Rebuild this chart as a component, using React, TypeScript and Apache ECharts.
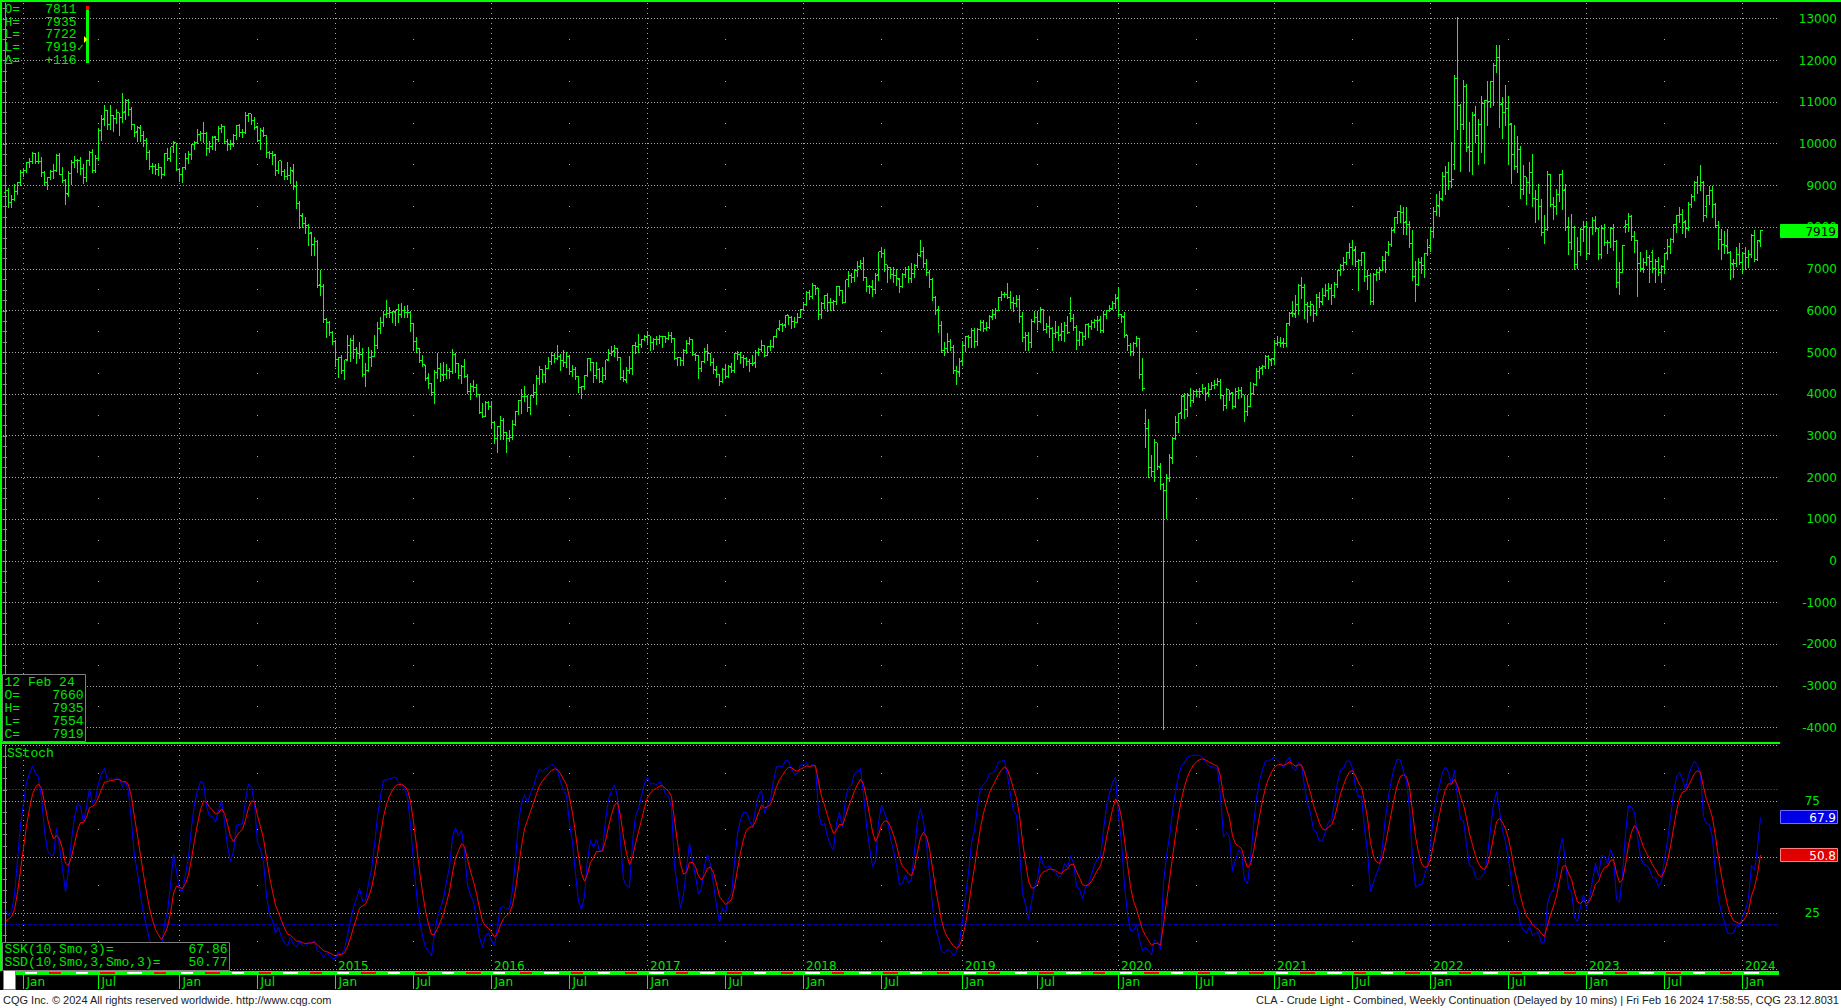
import React, { useEffect, useRef } from "react";
import * as echarts from "echarts";

// ---------------- DATA ----------------
// Weekly bars (Monday-dated) of CLA crude light, continuation, in dollars: [open, high, low, close]
// First bar: week of Mon 26 Nov 2012.
const FIRST_WEEK_UTC = Date.UTC(2012, 10, 26);

const bars2012 = [
  [88.3, 89.3, 85.8, 88.91], [88.9, 89.4, 84.9, 85.93], [86.0, 87.8, 84.9, 86.73], [86.8, 90.5, 86.6, 88.66], [88.6, 91.0, 87.9, 90.8], [90.8, 93.8, 90.2, 93.09],
];
const bars2013 = [
  [93.1, 94.3, 92.4, 93.56], [93.6, 95.7, 93.3, 95.56], [95.6, 96.6, 94.6, 95.88], [95.9, 98.2, 95.5, 97.77],
  [97.7, 97.9, 95.4, 95.72], [95.7, 98.0, 95.5, 95.86], [95.9, 97.0, 92.4, 93.13], [93.1, 93.6, 90.1, 90.68],
  [90.7, 92.2, 89.3, 91.95], [92.0, 93.7, 91.6, 93.45], [93.4, 95.1, 91.9, 93.71], [93.7, 97.5, 93.5, 97.23],
  [97.2, 97.8, 92.9, 92.7], [92.7, 94.6, 91.0, 91.29], [91.3, 91.5, 85.6, 88.01], [88.0, 93.6, 87.6, 93.0], [93.0, 96.2, 90.4, 95.61],
  [95.6, 97.2, 94.6, 96.04], [96.0, 96.3, 93.3, 96.02], [96.0, 96.9, 92.9, 94.15], [94.2, 95.3, 90.6, 91.97],
  [92.0, 96.1, 91.1, 96.03], [96.0, 98.4, 94.9, 97.85], [97.9, 98.7, 93.2, 93.69], [93.7, 97.4, 93.3, 96.56],
  [96.6, 103.9, 96.1, 103.22], [103.2, 107.0, 101.0, 105.95], [106.0, 109.3, 104.5, 108.05], [108.0, 108.1, 103.6, 104.7], [104.7, 109.3, 103.6, 106.94],
  [106.9, 107.0, 103.1, 106.04], [106.0, 108.3, 105.0, 107.46], [107.5, 107.5, 102.2, 106.42], [106.4, 112.2, 105.3, 107.65],
  [107.7, 110.7, 106.1, 110.53], [110.5, 110.7, 106.9, 108.21], [108.2, 108.8, 103.6, 104.67], [104.7, 104.9, 101.9, 102.87], [102.9, 104.4, 100.6, 103.84],
  [103.8, 104.5, 100.7, 102.02], [102.0, 103.0, 99.6, 100.81], [100.8, 101.5, 96.3, 97.85], [97.9, 98.6, 93.9, 94.61],
  [94.6, 95.4, 93.0, 94.6], [94.6, 95.3, 92.9, 93.84], [93.8, 95.5, 92.5, 94.44], [94.4, 94.6, 91.8, 92.72],
  [92.7, 97.9, 92.5, 97.65], [97.7, 99.0, 96.1, 96.6], [96.6, 99.3, 96.0, 99.32], [99.3, 100.8, 98.2, 100.32], [100.3, 100.3, 93.8, 93.96],
];
const bars2014 = [
  [94.0, 94.3, 91.2, 92.72], [92.7, 94.6, 91.0, 94.37], [94.4, 97.8, 94.0, 96.64], [96.6, 98.3, 95.4, 97.49],
  [97.5, 100.0, 96.4, 99.88], [99.9, 100.8, 98.9, 100.3], [100.3, 103.7, 100.2, 102.2], [102.2, 103.0, 100.9, 102.59],
  [102.6, 105.2, 100.5, 102.58], [102.6, 102.8, 97.4, 98.89], [98.9, 100.8, 98.0, 99.46], [99.5, 102.0, 98.9, 101.67], [101.7, 102.0, 98.5, 101.14],
  [101.1, 104.4, 100.7, 103.74], [103.7, 104.9, 102.8, 104.3], [104.3, 104.4, 100.3, 100.6], [100.6, 101.3, 98.6, 99.76],
  [99.8, 101.0, 98.9, 99.99], [100.0, 102.3, 99.6, 102.02], [102.0, 104.6, 101.3, 104.35], [104.4, 104.7, 101.9, 102.71],
  [102.7, 103.7, 101.7, 102.66], [102.7, 107.7, 102.6, 106.91], [106.9, 107.5, 105.5, 107.26], [107.3, 107.3, 104.8, 105.74], [105.7, 106.5, 103.7, 104.06],
  [104.1, 104.2, 100.7, 100.83], [100.8, 103.8, 98.9, 103.13], [103.1, 104.0, 101.8, 102.09], [102.1, 102.2, 97.0, 97.88],
  [97.9, 98.3, 96.6, 97.65], [97.7, 98.3, 95.1, 97.35], [97.4, 97.5, 92.5, 93.65], [93.7, 96.0, 93.0, 95.96],
  [96.0, 96.0, 92.5, 93.29], [93.3, 94.0, 91.5, 92.27], [92.3, 95.6, 91.6, 92.41], [92.4, 94.4, 90.6, 93.54], [93.5, 95.2, 89.2, 89.74],
  [89.7, 91.2, 84.7, 85.82], [85.8, 86.3, 79.8, 82.75], [82.7, 83.5, 80.0, 81.01], [81.0, 82.4, 78.6, 80.54],
  [80.5, 80.8, 75.8, 78.65], [78.7, 78.9, 73.3, 75.82], [75.8, 77.8, 73.3, 76.51], [76.5, 76.9, 65.7, 66.15],
  [66.2, 69.9, 63.7, 65.84], [65.8, 66.4, 57.3, 57.81], [57.8, 58.3, 53.6, 57.13], [57.1, 57.6, 54.3, 54.73], [54.7, 55.1, 52.0, 52.69],
];
const bars2015 = [
  [52.7, 53.1, 46.8, 48.36], [48.4, 49.0, 44.2, 48.69], [48.7, 49.3, 45.2, 45.59], [45.6, 48.3, 43.6, 48.24],
  [48.2, 54.2, 48.1, 51.69], [51.7, 53.5, 48.0, 52.78], [52.8, 54.2, 48.8, 50.81], [50.8, 51.3, 47.5, 49.76],
  [49.8, 52.5, 48.8, 49.61], [49.6, 51.0, 44.4, 44.84], [44.8, 47.6, 42.0, 45.72], [45.7, 51.3, 45.6, 48.87], [48.9, 50.6, 46.8, 49.14],
  [49.1, 54.2, 49.1, 51.64], [51.6, 57.4, 51.0, 55.74], [55.7, 58.4, 54.7, 57.15], [57.2, 59.9, 56.3, 59.15],
  [59.2, 62.6, 58.4, 59.39], [59.4, 61.0, 58.6, 59.69], [59.7, 60.0, 57.2, 59.72], [59.7, 60.3, 56.5, 60.3],
  [60.3, 61.6, 57.3, 59.13], [59.1, 61.8, 58.5, 59.96], [60.0, 61.2, 58.6, 59.61], [59.6, 61.5, 58.4, 59.63], [59.6, 59.9, 55.1, 56.93],
  [56.9, 57.0, 50.6, 52.74], [52.7, 53.8, 50.1, 50.89], [50.9, 51.0, 47.7, 48.14], [48.1, 49.5, 46.7, 47.12],
  [47.0, 47.0, 43.4, 43.87], [43.9, 45.2, 41.4, 42.5], [42.5, 42.8, 39.9, 40.45], [40.5, 45.9, 37.8, 45.22], [45.2, 50.0, 44.0, 46.05],
  [46.1, 47.5, 43.1, 44.63], [44.6, 47.7, 43.4, 44.68], [44.7, 47.2, 43.8, 45.7], [45.7, 46.2, 43.9, 45.54],
  [45.5, 50.9, 45.2, 49.63], [49.6, 49.8, 45.3, 47.26], [47.3, 47.5, 43.9, 44.6], [44.6, 47.0, 42.6, 46.59],
  [46.6, 48.4, 44.2, 44.29], [44.3, 44.9, 40.2, 40.74], [40.7, 42.6, 38.9, 41.9], [41.9, 43.5, 40.7, 41.71], [41.7, 42.5, 39.6, 39.97],
  [40.0, 40.1, 35.4, 35.62], [35.6, 37.9, 34.5, 34.73], [34.7, 38.3, 34.7, 38.1], [38.1, 38.3, 36.5, 37.04],
];
const bars2016 = [
  [37.0, 38.4, 32.1, 33.16], [33.2, 33.6, 28.4, 29.42], [29.4, 32.4, 26.2, 32.19], [32.2, 34.8, 29.3, 33.62],
  [33.6, 34.2, 29.3, 30.89], [30.9, 31.0, 26.1, 29.44], [29.4, 31.5, 28.7, 29.64], [29.6, 33.8, 29.3, 32.78], [32.8, 36.0, 32.5, 35.92],
  [35.9, 38.4, 35.3, 38.5], [38.5, 41.2, 35.5, 39.44], [39.4, 41.9, 38.3, 39.46], [39.5, 39.9, 35.9, 36.79],
  [36.8, 39.8, 35.2, 39.72], [39.7, 42.4, 39.4, 40.36], [40.4, 44.5, 37.6, 43.73], [43.7, 46.8, 42.5, 45.92],
  [45.9, 46.0, 43.0, 44.66], [44.7, 47.0, 43.0, 46.21], [46.2, 49.0, 46.2, 47.75], [47.8, 50.2, 47.2, 49.33], [49.3, 50.0, 47.8, 48.62],
  [48.6, 51.7, 48.5, 49.07], [49.1, 49.6, 45.8, 47.98], [48.0, 50.5, 46.7, 47.64], [47.6, 50.2, 46.6, 48.99],
  [49.0, 49.3, 44.8, 45.41], [45.4, 47.1, 44.4, 45.95], [46.0, 46.6, 43.7, 44.19], [44.2, 44.4, 40.6, 41.6],
  [41.6, 42.0, 39.2, 41.8], [41.8, 44.6, 41.3, 44.49], [44.5, 48.8, 44.4, 48.52], [48.5, 48.6, 45.8, 47.64], [47.6, 47.8, 43.0, 44.44],
  [44.4, 47.7, 43.8, 45.88], [45.9, 46.2, 42.9, 43.03], [43.0, 46.6, 42.9, 44.48], [44.5, 48.3, 43.6, 48.24],
  [48.2, 50.8, 48.1, 49.81], [49.8, 51.6, 49.3, 50.35], [50.4, 51.9, 49.2, 50.85], [50.9, 51.0, 48.2, 48.7], [48.7, 49.0, 43.6, 44.07],
  [44.1, 45.9, 43.1, 43.41], [43.4, 46.6, 43.0, 45.69], [45.7, 49.2, 45.2, 46.06], [46.1, 51.9, 44.8, 51.68],
  [51.7, 52.4, 49.9, 51.5], [51.5, 54.5, 50.2, 51.9], [51.9, 53.3, 51.4, 53.02], [53.0, 54.3, 52.9, 53.72],
];
const bars2017 = [
  [53.7, 55.2, 52.1, 53.99], [54.0, 54.0, 50.7, 52.37], [52.4, 53.5, 50.9, 53.22], [53.2, 54.0, 52.0, 53.17], [53.2, 54.1, 52.2, 53.83],
  [53.8, 54.0, 51.2, 53.86], [53.9, 54.0, 52.6, 53.4], [53.4, 54.9, 53.2, 53.99], [54.0, 54.8, 52.6, 53.33],
  [53.3, 53.4, 48.6, 48.49], [48.5, 49.0, 47.1, 48.78], [48.8, 48.9, 47.1, 47.97], [48.0, 50.9, 47.1, 50.6],
  [50.6, 52.9, 50.0, 52.24], [52.2, 53.8, 52.0, 53.18], [53.2, 53.3, 49.4, 49.62], [49.6, 49.9, 48.2, 49.33],
  [49.3, 49.5, 43.8, 46.22], [46.2, 48.0, 45.5, 47.84], [47.8, 51.0, 47.7, 50.33], [50.3, 52.0, 48.2, 49.8], [49.8, 50.0, 46.9, 47.66],
  [47.7, 48.8, 45.2, 45.83], [45.8, 46.8, 44.2, 44.74], [44.7, 44.8, 42.1, 43.01], [43.0, 46.4, 42.9, 46.04],
  [46.0, 47.3, 43.8, 44.23], [44.2, 46.9, 44.2, 46.54], [46.5, 47.5, 45.4, 45.77], [45.8, 49.8, 45.4, 49.71], [49.7, 50.4, 48.5, 49.58],
  [49.6, 50.2, 47.6, 48.82], [48.8, 49.5, 46.5, 48.51], [48.5, 48.9, 47.0, 47.87], [47.9, 48.4, 45.6, 47.29],
  [47.3, 49.4, 47.0, 47.48], [47.5, 50.5, 46.6, 49.89], [49.9, 51.0, 49.5, 50.66], [50.7, 52.9, 50.4, 51.67],
  [51.7, 51.8, 49.2, 49.29], [49.3, 51.6, 49.3, 51.45], [51.5, 52.9, 50.7, 51.47], [51.5, 54.0, 51.3, 53.9], [53.9, 55.7, 53.7, 55.64],
  [55.6, 57.7, 55.5, 56.74], [56.7, 57.1, 55.1, 56.55], [56.6, 59.1, 56.1, 58.95], [59.0, 59.0, 56.8, 58.36],
  [58.4, 58.8, 55.8, 57.36], [57.4, 58.4, 56.1, 57.3], [57.3, 59.5, 57.2, 58.47], [58.5, 60.5, 58.4, 60.42],
];
const bars2018 = [
  [60.4, 62.2, 60.1, 61.44], [61.4, 64.8, 61.3, 64.3], [64.3, 64.9, 62.8, 63.37], [63.4, 66.7, 63.1, 66.14], [66.1, 66.2, 64.1, 65.45],
  [65.5, 65.5, 58.1, 59.2], [59.2, 62.1, 58.2, 61.68], [61.7, 63.7, 60.7, 63.55], [63.6, 64.2, 60.0, 62.04],
  [62.0, 63.0, 60.2, 62.04], [62.0, 62.6, 60.2, 62.34], [62.3, 66.0, 61.6, 65.88], [65.9, 66.0, 63.9, 64.94],
  [64.9, 65.0, 61.8, 62.06], [62.1, 67.5, 62.0, 67.39], [67.4, 69.6, 66.0, 68.38], [68.4, 69.0, 66.8, 68.1], [68.1, 70.0, 67.1, 69.72],
  [69.7, 71.9, 68.4, 70.7], [70.7, 72.3, 70.3, 71.28], [71.3, 72.9, 67.3, 67.88], [67.9, 68.0, 64.8, 65.81],
  [65.8, 66.2, 64.2, 65.74], [65.7, 67.5, 63.6, 65.06], [65.1, 69.0, 64.3, 68.58], [68.6, 74.2, 67.5, 74.15],
  [74.2, 75.3, 72.9, 73.8], [73.8, 74.8, 69.6, 71.01], [71.0, 71.1, 67.0, 70.46], [70.5, 70.6, 67.9, 68.69], [68.7, 70.4, 66.9, 68.49],
  [68.5, 70.0, 66.3, 67.63], [67.6, 67.9, 64.4, 65.91], [65.9, 69.0, 65.7, 68.72], [68.7, 70.4, 68.0, 69.8],
  [69.8, 70.7, 66.9, 67.75], [67.8, 71.4, 67.0, 68.99], [69.0, 71.3, 68.2, 70.78], [70.8, 73.8, 70.6, 73.25],
  [73.3, 76.9, 73.1, 74.34], [74.3, 75.2, 70.6, 71.34], [71.3, 72.4, 68.5, 69.12], [69.1, 69.9, 65.7, 67.59], [67.6, 67.8, 62.6, 63.14],
  [63.1, 63.5, 59.3, 60.19], [60.2, 61.2, 54.8, 56.46], [56.5, 57.5, 50.2, 50.42], [50.4, 52.4, 49.4, 50.93],
  [50.9, 54.6, 50.1, 52.61], [52.6, 53.3, 50.6, 51.2], [51.2, 51.9, 45.0, 45.59], [45.6, 46.7, 42.4, 45.33], [45.3, 48.8, 44.4, 47.96],
];
const bars2019 = [
  [48.0, 52.7, 47.1, 51.59], [51.6, 54.0, 50.3, 53.8], [53.8, 54.2, 51.3, 53.69], [53.7, 55.8, 51.3, 55.26],
  [55.3, 55.8, 51.2, 52.72], [52.7, 55.8, 51.9, 55.59], [55.6, 57.8, 55.4, 57.26], [57.3, 57.9, 55.1, 55.8],
  [55.8, 57.4, 55.4, 56.07], [56.1, 58.9, 55.9, 58.52], [58.5, 60.4, 58.1, 59.04], [59.0, 60.7, 58.2, 60.14],
  [60.1, 63.2, 60.1, 63.08], [63.1, 64.8, 62.5, 63.89], [63.9, 64.5, 63.2, 64.0], [64.0, 66.6, 63.0, 63.3], [63.3, 64.8, 60.6, 61.94],
  [61.9, 63.3, 60.0, 61.66], [61.7, 63.9, 61.1, 62.76], [62.8, 63.8, 57.3, 58.63], [58.6, 59.7, 52.8, 53.5],
  [53.5, 54.9, 50.6, 53.99], [54.0, 54.8, 50.7, 52.51], [52.5, 58.0, 51.3, 57.43], [57.4, 59.9, 57.2, 58.47],
  [58.5, 59.9, 55.7, 57.51], [57.5, 60.9, 57.2, 60.21], [60.2, 60.4, 55.4, 55.63], [55.6, 57.1, 54.9, 56.2], [56.2, 58.8, 53.6, 55.66],
  [55.7, 56.0, 50.5, 54.5], [54.5, 57.5, 53.6, 54.87], [54.9, 56.4, 53.0, 54.17], [54.2, 57.0, 52.9, 55.1],
  [55.1, 57.4, 52.8, 56.52], [56.5, 58.8, 54.6, 54.85], [59.4, 63.4, 57.5, 58.09], [58.1, 59.2, 55.3, 55.91], [55.9, 56.6, 50.9, 52.81],
  [52.8, 55.1, 51.9, 54.7], [54.7, 54.9, 51.9, 53.78], [53.8, 56.9, 53.3, 56.66], [56.7, 57.1, 53.7, 56.2],
  [56.2, 57.9, 55.7, 57.24], [57.2, 58.0, 56.0, 57.72], [57.7, 58.7, 55.5, 57.77], [57.8, 58.7, 55.0, 55.17],
  [55.2, 59.9, 55.0, 59.2], [59.2, 60.1, 58.2, 60.07], [60.1, 61.4, 59.9, 60.44], [60.4, 62.3, 60.4, 61.72], [61.7, 64.1, 60.6, 63.05],
];
const bars2020 = [
  [63.1, 65.7, 58.7, 59.04], [59.0, 59.3, 57.4, 58.54], [58.5, 59.7, 53.6, 54.19], [54.2, 54.3, 50.6, 51.56],
  [51.6, 52.2, 49.3, 50.32], [50.3, 52.4, 49.3, 52.05], [52.1, 54.0, 51.5, 53.38], [53.4, 53.4, 44.0, 44.76],
  [44.8, 48.7, 41.0, 41.28], [32.9, 36.5, 27.3, 31.73], [31.7, 34.0, 20.1, 22.43], [22.4, 25.4, 20.5, 21.51], [21.5, 29.3, 19.3, 28.34],
  [28.3, 28.4, 22.0, 22.76], [22.4, 23.4, 17.3, 18.27], [18.3, 18.6, -40.3, 16.94], [16.9, 20.8, 10.3, 19.78],
  [19.8, 25.7, 19.1, 24.74], [24.7, 29.8, 23.6, 29.43], [29.4, 34.7, 29.3, 33.25], [33.3, 35.5, 31.0, 35.49],
  [35.5, 39.8, 34.4, 39.55], [39.6, 40.4, 34.4, 36.26], [36.3, 40.4, 34.7, 39.75], [39.8, 41.6, 37.1, 38.49], [38.5, 40.9, 38.2, 40.65],
  [40.7, 41.3, 39.6, 40.55], [40.6, 41.6, 39.4, 40.59], [40.6, 42.5, 40.3, 41.29], [41.3, 41.8, 38.7, 40.27],
  [40.3, 42.8, 39.6, 41.22], [41.2, 43.0, 41.2, 42.01], [42.0, 43.4, 41.5, 42.34], [42.3, 43.8, 42.3, 42.97], [43.0, 43.6, 39.0, 39.77],
  [39.8, 39.8, 36.1, 37.33], [37.3, 41.4, 36.6, 41.11], [41.1, 41.1, 38.6, 40.25], [40.3, 40.5, 36.6, 37.05],
  [37.1, 41.6, 36.9, 40.6], [40.6, 41.7, 39.1, 40.88], [40.9, 41.7, 39.3, 39.85], [39.9, 39.9, 33.6, 35.79],
  [35.8, 39.8, 34.9, 37.14], [37.1, 43.0, 37.1, 40.13], [40.1, 42.6, 40.0, 42.42], [42.4, 46.3, 42.3, 45.53], [45.5, 46.7, 43.9, 46.26],
  [46.3, 47.0, 44.9, 46.57], [46.6, 49.3, 46.3, 49.1], [49.1, 49.3, 46.4, 48.23], [48.2, 48.6, 47.1, 48.52],
];
const bars2021 = [
  [48.4, 53.0, 47.2, 52.24], [52.2, 53.9, 51.8, 52.36], [52.4, 53.6, 51.5, 52.27], [52.3, 53.5, 51.3, 52.2],
  [52.2, 57.0, 51.6, 56.85], [56.9, 59.8, 56.6, 59.47], [59.5, 62.3, 58.7, 59.24], [59.2, 63.8, 58.6, 61.5],
  [61.5, 66.4, 59.3, 66.09], [66.1, 68.0, 63.1, 65.61], [65.6, 66.4, 58.3, 61.42], [61.4, 62.0, 57.3, 60.97], [61.0, 62.3, 58.9, 61.45],
  [61.5, 61.5, 57.6, 59.32], [59.3, 64.0, 58.9, 63.13], [63.1, 64.4, 60.8, 62.14], [62.1, 65.5, 61.6, 63.58],
  [63.6, 66.5, 63.5, 64.9], [64.9, 66.7, 62.8, 65.37], [65.4, 66.4, 61.6, 63.58], [63.6, 67.0, 63.2, 66.32], [66.3, 69.8, 65.6, 69.62],
  [69.6, 71.2, 68.5, 70.91], [70.9, 72.9, 69.7, 71.64], [71.6, 74.2, 71.3, 74.05], [74.1, 76.2, 72.6, 75.16],
  [75.2, 77.0, 71.2, 74.56], [74.6, 75.5, 70.8, 71.81], [71.8, 72.4, 65.0, 72.07], [72.1, 74.0, 71.0, 73.95],
  [73.9, 74.0, 67.1, 68.28], [68.3, 69.9, 65.2, 68.44], [68.4, 69.0, 61.7, 62.32], [62.3, 69.0, 61.7, 68.74], [68.7, 70.1, 67.5, 69.29],
  [69.3, 70.4, 67.6, 69.72], [69.7, 73.1, 69.7, 71.97], [72.0, 74.3, 69.3, 73.98], [74.0, 76.7, 73.5, 75.88],
  [75.9, 80.1, 75.6, 79.35], [79.4, 82.5, 78.9, 82.28], [82.3, 84.0, 81.0, 83.76], [83.8, 85.4, 81.3, 83.57],
  [83.6, 84.9, 78.3, 81.27], [81.3, 84.9, 78.3, 80.79], [80.8, 81.5, 75.4, 76.1], [76.1, 79.3, 67.4, 68.15], [68.2, 72.0, 62.4, 66.26],
  [66.3, 72.7, 66.1, 71.67], [71.7, 73.0, 69.0, 70.86], [70.9, 73.9, 68.0, 73.79], [73.8, 77.3, 73.5, 75.21],
];
const bars2022 = [
  [75.7, 80.2, 74.3, 78.9], [78.9, 84.8, 77.8, 83.82], [83.8, 87.9, 82.9, 85.14], [85.1, 88.8, 82.8, 86.82], [86.8, 93.2, 86.6, 92.31],
  [92.3, 94.7, 88.0, 93.1], [93.1, 95.8, 89.1, 91.07], [91.1, 100.5, 89.7, 91.59], [95.2, 116.6, 94.0, 115.68],
  [115.7, 130.5, 103.5, 109.33], [109.3, 109.7, 93.5, 104.7], [104.7, 115.4, 103.5, 113.9], [113.9, 114.5, 98.4, 99.27],
  [99.3, 105.2, 93.6, 98.26], [98.3, 107.7, 92.9, 106.95], [107.0, 109.0, 100.5, 102.07], [102.1, 106.0, 95.3, 104.69],
  [104.7, 111.4, 98.2, 109.77], [109.8, 110.6, 95.4, 110.49], [110.5, 115.0, 104.6, 110.28], [110.3, 115.1, 108.8, 115.07], [115.1, 119.4, 109.3, 118.87],
  [118.9, 123.7, 117.2, 120.67], [120.7, 123.7, 104.0, 109.56], [109.6, 111.2, 101.5, 107.62], [107.6, 114.1, 104.6, 108.43],
  [108.4, 111.5, 95.1, 104.79], [104.8, 105.0, 90.6, 97.59], [97.6, 104.5, 94.1, 94.7], [94.7, 101.9, 93.2, 98.62],
  [98.6, 99.6, 87.0, 89.01], [89.0, 94.9, 87.9, 92.09], [92.1, 92.1, 85.7, 90.77], [90.8, 95.6, 88.2, 93.06], [93.1, 97.7, 85.2, 86.87],
  [86.9, 89.0, 81.2, 86.79], [86.8, 90.4, 82.1, 85.11], [85.1, 86.8, 78.1, 78.74], [78.7, 83.0, 76.3, 79.49],
  [79.5, 93.6, 79.3, 92.64], [92.6, 92.8, 85.2, 85.61], [85.6, 87.4, 82.1, 85.05], [85.1, 89.3, 83.1, 87.9], [87.9, 92.9, 86.3, 92.61],
  [92.6, 93.7, 84.5, 88.96], [89.0, 90.3, 79.3, 80.08], [80.1, 82.4, 73.6, 76.28], [76.3, 83.3, 74.9, 79.98],
  [80.0, 80.3, 70.1, 71.02], [71.0, 77.8, 70.3, 74.29], [74.3, 79.9, 73.4, 79.56], [79.6, 81.5, 76.8, 80.26],
];
const bars2023 = [
  [80.3, 81.5, 72.5, 73.77], [73.8, 80.1, 73.6, 79.86], [79.9, 82.6, 78.3, 81.64], [81.6, 82.7, 79.2, 79.68], [79.7, 79.8, 72.5, 73.39],
  [73.4, 80.6, 72.6, 79.72], [79.7, 80.7, 75.7, 76.34], [76.3, 76.9, 73.8, 76.32], [76.3, 80.0, 75.3, 79.68],
  [79.7, 80.9, 74.6, 76.68], [76.7, 77.0, 65.7, 66.74], [66.7, 71.7, 64.1, 69.26], [69.3, 75.7, 69.3, 75.67],
  [80.1, 81.8, 79.0, 80.7], [80.7, 83.5, 79.2, 82.52], [82.5, 83.0, 77.0, 77.87], [77.9, 79.1, 74.0, 76.78],
  [76.8, 76.9, 63.6, 71.34], [71.3, 74.0, 69.6, 70.04], [70.0, 72.7, 69.4, 71.69], [71.7, 74.7, 71.1, 72.67], [72.7, 73.4, 67.0, 71.74],
  [74.0, 74.5, 69.2, 70.17], [70.2, 72.4, 66.9, 71.78], [71.8, 73.0, 68.6, 69.16], [69.2, 71.0, 67.0, 70.64],
  [70.6, 73.9, 69.0, 73.86], [73.9, 77.3, 72.5, 75.42], [75.4, 77.4, 73.9, 77.07], [77.1, 80.8, 76.6, 80.58], [80.6, 83.0, 78.8, 82.82],
  [82.8, 84.9, 81.4, 83.19], [83.2, 84.4, 78.6, 81.25], [81.3, 81.8, 77.6, 79.83], [79.8, 86.0, 79.3, 85.55],
  [85.6, 88.1, 85.0, 87.51], [87.5, 91.2, 86.6, 90.77], [90.8, 92.4, 88.3, 90.03], [90.0, 95.0, 88.9, 90.79],
  [90.8, 91.1, 81.5, 82.79], [85.0, 87.8, 82.4, 87.69], [87.7, 90.0, 85.6, 88.75], [88.8, 89.9, 82.5, 85.54], [85.4, 85.9, 80.1, 80.51],
  [80.5, 81.5, 74.9, 77.17], [77.2, 79.5, 72.4, 75.89], [75.9, 79.1, 73.8, 75.54], [75.5, 79.6, 73.8, 74.07],
  [74.1, 74.3, 67.7, 71.23], [71.2, 72.5, 68.0, 71.43], [71.4, 75.2, 70.7, 73.56], [73.6, 76.2, 71.2, 71.65],
];
const bars2024 = [
  [71.6, 74.2, 69.3, 73.81], [73.8, 75.3, 70.1, 72.68], [72.7, 74.7, 70.6, 73.41], [73.4, 78.3, 72.9, 78.01], [78.0, 79.3, 72.0, 72.28],
  [72.3, 77.0, 72.2, 76.84], [76.6, 79.35, 75.54, 79.19],
];
// Weeks before the first visible bar (Sep 3 - Nov 19 2012), [high, low, close]; used only to start the stochastic
const warmup2012 = [
  [97.4, 94.2, 96.42], [100.4, 95.9, 99.0], [99.0, 91.2, 92.89], [93.5, 88.9, 92.19], [94.0, 87.6, 89.88], [93.0, 88.8, 91.86],
  [93.0, 89.5, 90.05], [90.4, 84.8, 86.28], [87.2, 84.1, 84.86], [89.0, 84.1, 86.07], [87.2, 84.1, 86.92], [89.0, 85.6, 88.28],
];

const priceGridValues = [-4000, -3000, -2000, -1000, 0, 1000, 2000, 3000, 4000, 5000, 6000, 7000, 8000, 9000, 10000, 11000, 12000, 13000];
const stochGridValues = [0, 25, 50, 75, 100];
const stochLabelValues = [25, 75];
const stochLevels = [80, 20];
const stochPeriod = 10;
const stochSmooth = 3;
const lastSSK = 67.86;
const lastSSD = 50.77;
const sskBoxText = "67.9";
const ssdBoxText = "50.8";
const sskLegend = ["SSK(10,Smo,3)=", "67.86"];
const ssdLegend = ["SSD(10,Smo,3,Smo,3)=", "50.77"];
const dayQuote = [["O=", "7811"], ["H=", "7935"], ["L=", "7722"], ["L=", "7919"], ["\u0394=", "+116"]];
const weekQuoteDate = "12 Feb 24";
const weekQuote = [["O=", "7660"], ["H=", "7935"], ["L=", "7554"], ["C=", "7919"]];
const firstYearLabelShown = 2015; // 2013 and 2014 sit under the SSK legend box
const footerLeft = "CQG Inc. \u00a9 2024 All rights reserved worldwide. http://www.cqg.com";
const footerRight = "CLA - Crude Light - Combined, Weekly Continuation (Delayed by 10 mins) | Fri Feb 16 2024 17:58:55, CQG 23.12.8031";

// ---------------- STYLE ----------------
const GREEN = "#00ff00";
const TEXT_GREEN = "#00e600";
const BAR_GREEN = "#12f812";
const GRID_GRAY = "#a8a8a8";
const TICK_GRAY = "#8a8a8a";
const SANS = '"DejaVu Sans", Verdana, sans-serif';
const MONO = '"Liberation Mono", "DejaVu Sans Mono", monospace';

const X_MIN = -2.5 / 3;
const X_MAX = X_MIN + 592;
const P_MIN = -4340;
const P_MAX = 13381;

function buildOption() {
  const bars = [
    ...bars2012, ...bars2013, ...bars2014, ...bars2015, ...bars2016, ...bars2017, ...bars2018,
    ...bars2019, ...bars2020, ...bars2021, ...bars2022, ...bars2023, ...bars2024,
  ].map((b) => b.map((v) => Math.round(v * 100)));
  const N = bars.length;

  // stochastic: raw %K over 10 weeks, numerator and denominator smoothed (Smo 3); SSD = Smo 3 of SSK
  const hlc = [...warmup2012.map((r) => r.map((v) => Math.round(v * 100))), ...bars.map((b) => [b[1], b[2], b[3]])];
  let sNum: any = null, sDen: any = null, sD: any = null;
  const ssk: number[][] = [], ssd: number[][] = [];
  for (let t = 0; t < hlc.length; t++) {
    const from = Math.max(0, t - stochPeriod + 1);
    let hh = -Infinity, ll = Infinity;
    for (let j = from; j <= t; j++) { hh = Math.max(hh, hlc[j][0]); ll = Math.min(ll, hlc[j][1]); }
    const num = hlc[t][2] - ll, den = hh - ll;
    sNum = sNum === null ? num : sNum + (num - sNum) / stochSmooth;
    sDen = sDen === null ? den : sDen + (den - sDen) / stochSmooth;
    const k = sDen > 0 ? (100 * sNum) / sDen : 50;
    sD = sD === null ? k : sD + (k - sD) / stochSmooth;
    const i = t - warmup2012.length;
    if (i >= 0) { ssk.push([i, k]); ssd.push([i, sD]); }
  }

  // calendar of weekly bars
  const months: { i: number; m: number; y: number }[] = [];
  let prevM = new Date(FIRST_WEEK_UTC).getUTCMonth();
  for (let i = 1; i < N; i++) {
    const d = new Date(FIRST_WEEK_UTC + i * 7 * 86400000);
    const m = d.getUTCMonth();
    if (m !== prevM) months.push({ i, m, y: d.getUTCFullYear() });
    prevM = m;
  }
  const janJul = months.filter((s) => s.m === 0 || s.m === 6);
  const janJulIdx = janJul.map((s) => s.i);
  const janJulLabel = new Map(janJul.map((s) => [s.i, s.m === 0 ? "Jan" : "Jul"]));
  const jans = months.filter((s) => s.m === 0);
  const juls = months.filter((s) => s.m === 6);
  const dashes: number[][] = [];
  months.forEach((s, k) => {
    if (s.m % 2 === 0) {
      const end = k + 1 < months.length ? months[k + 1].i : N;
      dashes.push([s.i, 0.5, end, s.m % 4 === 0 ? 0 : 1]);
    }
  });

  const priceMinor: number[] = [];
  for (let v = -4250; v <= 13250; v += 250) priceMinor.push(v);
  const stochMinor: number[] = [];
  for (let v = 5; v < 100; v += 5) stochMinor.push(v);

  const priceMid = priceGridValues.slice(0, -1).map((v) => v + 500);
  const stochMid = [12.5, 37.5, 62.5, 87.5];

  const hLine = (color: string, dash: number[]) => (params: any, api: any) => {
    const cs = params.coordSys;
    const y = Math.floor(api.coord([api.value(0), api.value(1)])[1]) + 0.5;
    return { type: "line", silent: true, shape: { x1: cs.x, y1: y, x2: cs.x + cs.width, y2: y }, style: { stroke: color, lineWidth: 1, lineDash: dash } };
  };
  const vLine = (params: any, api: any) => {
    const cs = params.coordSys;
    const x = Math.floor(api.coord([api.value(0), api.value(1)])[0]) + 0.5;
    return { type: "line", silent: true, shape: { x1: x, y1: cs.y, x2: x, y2: cs.y + cs.height }, style: { stroke: GRID_GRAY, lineWidth: 1, lineDash: [1, 4] } };
  };
  const dot = (params: any, api: any) => {
    const p = api.coord([api.value(0), api.value(1)]);
    return { type: "rect", silent: true, shape: { x: Math.floor(p[0]), y: Math.floor(p[1]), width: 1, height: 1 }, style: { fill: GRID_GRAY } };
  };
  const ohlc = (params: any, api: any) => {
    const i = api.value(0);
    const o = api.value(1), h = api.value(2), l = api.value(3), c = api.value(4);
    const top = Math.max(h, o, c), bot = Math.min(l, o, c);
    const pT = api.coord([i, top]), pB = api.coord([i, bot]);
    const yO = Math.floor(api.coord([i, o])[1]) + 0.5;
    const yC = Math.floor(api.coord([i, c])[1]) + 0.5;
    const x = Math.floor(pT[0]) + 0.5;
    const yT = Math.round(pT[1]);
    const yB = Math.max(Math.round(pB[1]), yT + 1);
    const st = { stroke: BAR_GREEN, lineWidth: 1 };
    return {
      type: "group", silent: true,
      children: [
        { type: "line", shape: { x1: x, y1: yT, x2: x, y2: yB + 1 }, style: st },
        { type: "line", shape: { x1: x - 1.5, y1: yO, x2: x - 0.5, y2: yO }, style: st },
        { type: "line", shape: { x1: x + 0.5, y1: yC, x2: x + 2.5, y2: yC }, style: st },
      ],
    };
  };
  const valueBox = (fills: string[], strokes: string[], texts: string[], textColors: string[]) => (params: any, api: any) => {
    const cs = params.coordSys;
    const k = params.dataIndex;
    const y = Math.round(api.coord([api.value(0), api.value(1)])[1]);
    const x0 = cs.x + cs.width + 1;
    return {
      type: "group", silent: true,
      children: [
        { type: "rect", shape: { x: x0 + 0.5, y: y - 6.5, width: 57, height: 13 }, style: { fill: fills[k], stroke: strokes[k], lineWidth: 1 } },
        { type: "text", x: 1836, y: y + 0.5, style: { text: texts[k], fill: textColors[k], font: `12px ${SANS}`, align: "right", verticalAlign: "middle" } },
      ],
    };
  };
  const yearLabel = (params: any, api: any) => {
    const cs = params.coordSys;
    const x = Math.floor(api.coord([api.value(0), api.value(1)])[0]) + 3;
    return { type: "text", silent: true, x, y: cs.y + cs.height + 2.5, style: { text: String(api.value(2)), fill: TEXT_GREEN, font: `12px ${SANS}`, align: "left", verticalAlign: "bottom" } };
  };
  const monthDash = (params: any, api: any) => {
    const a = api.coord([api.value(0), api.value(1)]);
    const b = api.coord([api.value(2), api.value(1)]);
    const x1 = Math.floor(a[0]) + 2, x2 = Math.floor(b[0]) + 2;
    return { type: "rect", silent: true, shape: { x: x1, y: 972, width: x2 - x1, height: 2 }, style: { fill: api.value(3) === 0 ? "#ffffff" : "#ff0000" } };
  };

  const xBase = { type: "value", min: X_MIN, max: X_MAX, splitLine: { show: false } };
  const txt = (text: string, x: number, y: number, align: string, font: string, fill = TEXT_GREEN) => ({
    type: "text", x, y, z: 60, silent: true, style: { text, fill, font, align, verticalAlign: "middle" },
  });
  const lineY = [9, 22, 34.5, 47.5, 60.5];
  const weekY = [695.3, 708.3, 721.3, 734.3];
  const f13 = `13px ${MONO}`;

  return {
    animation: false,
    backgroundColor: "#000000",
    textStyle: { fontFamily: SANS },
    grid: [
      { left: 3, top: 3, width: 1776, height: 739, containLabel: false, outerBoundsMode: "none" },
      { left: 3, top: 745, width: 1776, height: 224, containLabel: false, outerBoundsMode: "none" },
      { left: 3, top: 971, width: 1776, height: 4, show: true, backgroundColor: GREEN, borderWidth: 0, containLabel: false, outerBoundsMode: "none" },
    ],
    xAxis: [
      { ...xBase, gridIndex: 0, show: false },
      { ...xBase, gridIndex: 1, show: false },
      {
        ...xBase, gridIndex: 2, position: "bottom",
        axisLine: { show: false },
        axisTick: { show: true, customValues: janJulIdx, length: 14, lineStyle: { color: GREEN, width: 1 } },
        axisLabel: {
          show: true, customValues: janJulIdx, formatter: (v: number) => janJulLabel.get(v) || "",
          color: TEXT_GREEN, fontFamily: SANS, fontSize: 12, align: "left", padding: [0, 0, 0, 3], margin: 1,
        },
      },
    ],
    yAxis: [
      {
        gridIndex: 0, type: "value", position: "right", min: P_MIN, max: P_MAX,
        axisLine: { show: true, lineStyle: { color: GREEN, width: 1 } },
        axisTick: { show: true, inside: true, length: 3, customValues: priceMinor, lineStyle: { color: TICK_GRAY } },
        axisLabel: { show: true, customValues: priceGridValues, formatter: (v: number) => String(v), color: TEXT_GREEN, fontFamily: SANS, fontSize: 12, align: "right", verticalAlign: "middle", margin: 58 },
        splitLine: { show: false },
      },
      {
        gridIndex: 0, type: "value", position: "left", min: P_MIN, max: P_MAX,
        axisLine: { show: false },
        axisTick: { show: true, inside: true, length: 4, customValues: priceMinor, lineStyle: { color: TICK_GRAY } },
        axisLabel: { show: false }, splitLine: { show: false },
      },
      {
        gridIndex: 1, type: "value", position: "right", min: 0, max: 100,
        axisLine: { show: true, lineStyle: { color: GREEN, width: 1 } },
        axisTick: { show: true, inside: true, length: 3, customValues: stochMinor, lineStyle: { color: TICK_GRAY } },
        axisLabel: { show: true, customValues: stochLabelValues, formatter: (v: number) => String(v), color: TEXT_GREEN, fontFamily: SANS, fontSize: 12, align: "right", verticalAlign: "middle", margin: 41 },
        splitLine: { show: false },
      },
      {
        gridIndex: 1, type: "value", position: "left", min: 0, max: 100,
        axisLine: { show: false },
        axisTick: { show: true, inside: true, length: 4, customValues: stochMinor, lineStyle: { color: TICK_GRAY } },
        axisLabel: { show: false }, splitLine: { show: false },
      },
      { gridIndex: 2, type: "value", min: 0, max: 1, show: false },
    ],
    series: [
      { type: "custom", xAxisIndex: 0, yAxisIndex: 0, silent: true, renderItem: hLine(GRID_GRAY, [1, 2]), data: priceGridValues.map((v) => [0, v]) },
      { type: "custom", xAxisIndex: 1, yAxisIndex: 2, silent: true, renderItem: hLine(GRID_GRAY, [1, 2]), data: stochGridValues.map((v) => [0, v]) },
      { type: "custom", xAxisIndex: 0, yAxisIndex: 0, silent: true, renderItem: vLine, data: jans.map((s) => [s.i, 0]) },
      { type: "custom", xAxisIndex: 1, yAxisIndex: 2, silent: true, renderItem: vLine, data: jans.map((s) => [s.i, 50]) },
      { type: "custom", xAxisIndex: 0, yAxisIndex: 0, silent: true, renderItem: dot, data: juls.flatMap((s) => priceMid.map((v) => [s.i, v])) },
      { type: "custom", xAxisIndex: 1, yAxisIndex: 2, silent: true, renderItem: dot, data: juls.flatMap((s) => stochMid.map((v) => [s.i, v])) },
      {
        type: "custom", xAxisIndex: 1, yAxisIndex: 2, silent: true,
        renderItem: (params: any, api: any) => {
          const cs = params.coordSys;
          const y = Math.floor(api.coord([0, api.value(1)])[1]) + 0.5;
          return { type: "line", shape: { x1: cs.x, y1: y, x2: cs.x + cs.width, y2: y }, style: { stroke: params.dataIndex === 0 ? "#a00000" : "#0000b0", lineWidth: 1, lineDash: [2, 1] } };
        },
        data: stochLevels.map((v) => [0, v]),
      },
      {
        type: "custom", xAxisIndex: 1, yAxisIndex: 2, silent: true, renderItem: yearLabel,
        data: jans.filter((s) => s.y >= firstYearLabelShown).map((s) => [s.i, 0, s.y]),
      },
      { type: "custom", xAxisIndex: 0, yAxisIndex: 0, silent: true, renderItem: ohlc, data: bars.map((b, i) => [i, b[0], b[1], b[2], b[3]]), z: 3 },
      { type: "line", xAxisIndex: 1, yAxisIndex: 2, data: ssk, symbol: "none", showSymbol: false, silent: true, lineStyle: { color: "#0000ff", width: 1 }, z: 3 },
      { type: "line", xAxisIndex: 1, yAxisIndex: 2, data: ssd, symbol: "none", showSymbol: false, silent: true, lineStyle: { color: "#ff0000", width: 1 }, z: 4 },
      {
        type: "custom", xAxisIndex: 0, yAxisIndex: 0, silent: true, z: 5,
        renderItem: valueBox([GREEN], [GREEN], [String(bars[N - 1][3])], ["#000000"]),
        data: [[N - 1, bars[N - 1][3]]],
      },
      {
        type: "custom", xAxisIndex: 1, yAxisIndex: 2, silent: true, z: 5,
        renderItem: valueBox(["#0000e6", "#e00000"], ["#6f6fff", "#ff8080"], [sskBoxText, ssdBoxText], ["#ffffff", "#ffffff"]),
        data: [[N - 1, lastSSK], [N - 1, lastSSD]],
      },
      { type: "custom", xAxisIndex: 2, yAxisIndex: 4, silent: true, z: 5, renderItem: monthDash, data: dashes },
    ],
    graphic: [
      // frame
      { type: "rect", z: 40, silent: true, shape: { x: 0, y: 0, width: 1841, height: 2 }, style: { fill: GREEN } },
      { type: "rect", z: 40, silent: true, shape: { x: 0, y: 0, width: 2, height: 971 }, style: { fill: GREEN } },
      { type: "rect", z: 40, silent: true, shape: { x: 0, y: 742, width: 1780, height: 2 }, style: { fill: GREEN } },
      // footer
      { type: "rect", z: 40, silent: true, shape: { x: 0, y: 990, width: 1841, height: 18 }, style: { fill: "#ffffff" } },
      txt(footerLeft, 3, 999.5, "left", `11px "Liberation Sans", Arial, sans-serif`, "#222222"),
      txt(footerRight, 1839, 999.5, "right", `11px "Liberation Sans", Arial, sans-serif`, "#222222"),
      // small white box at the bottom left
      { type: "rect", z: 45, silent: true, shape: { x: 3.5, y: 970.5, width: 12, height: 19 }, style: { fill: "#ffffff", stroke: "#808080", lineWidth: 1 } },
      // top-left quote
      ...dayQuote.flatMap((r, k) => [txt(r[0], 4.5, lineY[k], "left", f13), txt(r[1], 76.5, lineY[k], "right", f13)]),
      txt("\u2713", 76.5, lineY[3], "left", `10px ${SANS}`),
      { type: "rect", z: 45, silent: true, shape: { x: 86, y: 6, width: 3, height: 57 }, style: { fill: GREEN } },
      { type: "rect", z: 46, silent: true, shape: { x: 86, y: 6, width: 3, height: 4 }, style: { fill: "#ff0000" } },
      { type: "polygon", z: 46, silent: true, shape: { points: [[84, 36], [87.5, 39.5], [84, 43]] }, style: { fill: "#ffff00" } },
      // weekly quote box
      { type: "rect", z: 50, silent: true, shape: { x: 2.5, y: 674.5, width: 83, height: 67 }, style: { fill: "#000000", stroke: "#808080", lineWidth: 1 } },
      txt(weekQuoteDate, 4.5, 682, "left", f13),
      ...weekQuote.flatMap((r, k) => [txt(r[0], 4.5, weekY[k], "left", f13), txt(r[1], 83.5, weekY[k], "right", f13)]),
      // stochastic title and legend box
      txt("SStoch", 7, 753, "left", f13),
      { type: "rect", z: 50, silent: true, shape: { x: 2.5, y: 942.5, width: 227, height: 28 }, style: { fill: "#000000", stroke: "#808080", lineWidth: 1 } },
      txt(sskLegend[0], 4.5, 949.5, "left", f13), txt(sskLegend[1], 227.5, 949.5, "right", f13),
      txt(ssdLegend[0], 4.5, 962.7, "left", f13), txt(ssdLegend[1], 227.5, 962.7, "right", f13),
    ],
  };
}

export default function App() {
  const ref = useRef<HTMLDivElement>(null);
  useEffect(() => {
    document.body.style.margin = "0";
    const chart = echarts.init(ref.current as HTMLDivElement, null, { renderer: "svg" });
    chart.setOption(buildOption() as any);
    return () => chart.dispose();
  }, []);
  return <div ref={ref} style={{ position: "absolute", left: 0, top: 0, width: "1841px", height: "1008px" }} />;
}
